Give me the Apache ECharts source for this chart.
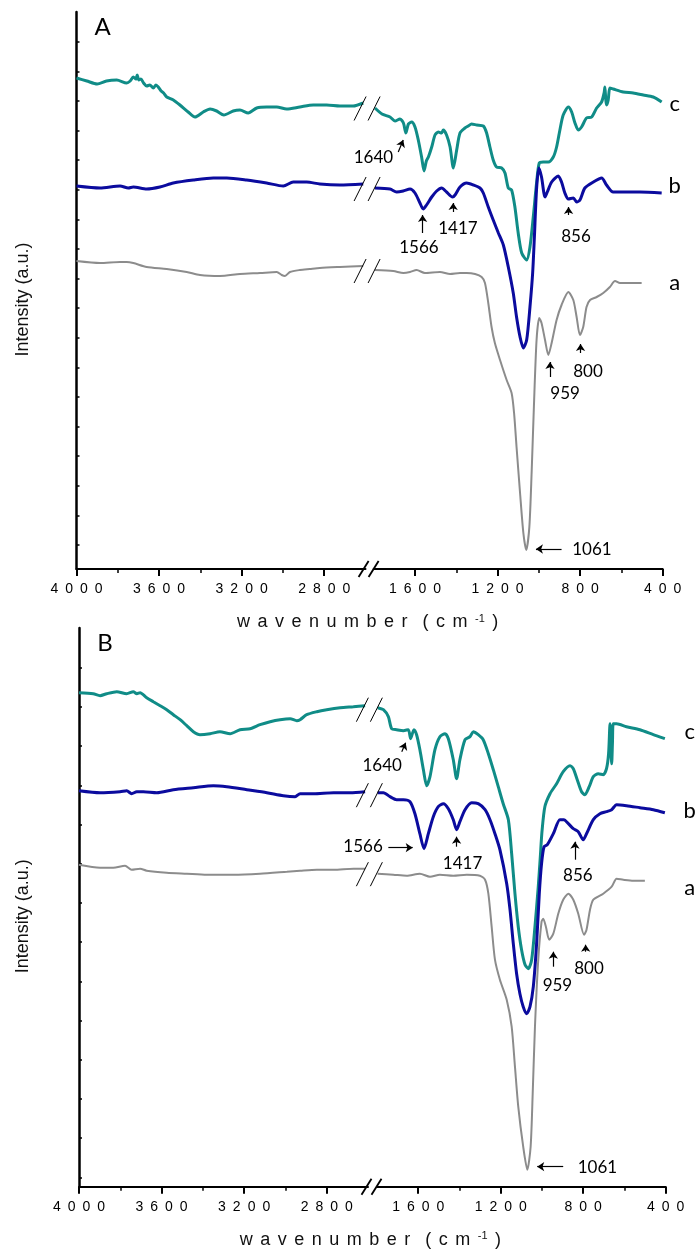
<!DOCTYPE html>
<html>
<head>
<meta charset="utf-8">
<title>FTIR spectra A / B</title>
<script src="https://cdn.jsdelivr.net/npm/echarts@6.0.0/dist/echarts.min.js"></script>
<style>
  html, body { margin: 0; padding: 0; background: #fff; }
  #chart { width: 698px; height: 1251px; }
</style>
</head>
<body>
<div id="chart"></div>
<script>
// broken wavenumber axis: 4000-2600 | 1800-400 (cm-1)
var leftRange = [2600, 4000];
var rightRange = [400, 1800];
var leftMajor = [4000, 3600, 3200, 2800];
var leftMinor = [3800, 3400, 3000];
var rightMajor = [1600, 1200, 800, 400];
var rightMinor = [1400, 1000, 600];

// intensity (a.u.), unlabeled ticks
var yMaxA = 557;
var yMaxB = 558.7;
var yTicksA = [24, 53.6, 83.2, 112.8, 142.4, 172, 201.6, 231.2, 260.8, 290.4, 320, 349.6, 379.2, 408.8, 438.4, 468, 497.6, 527.2];
var yTicksB = [9.4, 48.6, 87.8, 127, 166.2, 205.4, 244.6, 283.8, 323, 362.2, 401.4, 440.6, 479.8, 519];

// ---- panel A : [wavenumber, intensity]
var aTealLeft = [[4000,491],[3950,488],[3900,485],[3855,488],[3805,489],[3757,486],[3740,488],[3725,492],[3712,490],[3706,494],[3698,489],[3688,490],[3675,486],[3660,483],[3645,484],[3628,481],[3615,484],[3604,482],[3590,478],[3578,476],[3563,472],[3531,469],[3499,464],[3459,457],[3426,452],[3386,457],[3353,460],[3321,458],[3286,454],[3241,458],[3208,459],[3168,456],[3127,461],[3079,462],[3030,462],[2982,460],[2918,462],[2853,464],[2788,464],[2724,463],[2660,463],[2611,466]];
var aTealRight = [[1794,461],[1760,455],[1721,452],[1697,448],[1673,450],[1656,446],[1644,436],[1632,445],[1616,447],[1600,442],[1584,429],[1568,412],[1556,398],[1545,408],[1535,412],[1519,422],[1503,434],[1487,437],[1471,436],[1463,439],[1447,434],[1430,422],[1414,401],[1398,419],[1382,436],[1358,441],[1342,443],[1326,445],[1301,444],[1269,443],[1253,436],[1237,422],[1221,409],[1205,402],[1180,401],[1164,396],[1148,381],[1132,379],[1116,362],[1100,336],[1083,316],[1059,309],[1043,322],[1027,352],[1011,386],[998,406],[979,407],[954,407],[930,412],[914,422],[898,439],[882,454],[857,462],[841,457],[825,446],[809,439],[793,442],[769,451],[744,452],[720,461],[696,467],[684,476],[680,482],[676,470],[672,464],[664,469],[656,481],[640,480],[591,477],[543,476],[494,474],[446,472],[405,467]];
var aBlueLeft = [[4000,383],[3886,381],[3789,383],[3749,381],[3725,382],[3660,380],[3596,382],[3531,386],[3434,389],[3337,391],[3272,391],[3176,389],[3079,386],[2998,383],[2950,387],[2885,387],[2821,385],[2724,384],[2611,385]];
var aBlueRight = [[1794,381],[1721,380],[1689,377],[1657,378],[1624,380],[1600,376],[1576,366],[1560,360],[1544,364],[1519,372],[1495,378],[1471,381],[1447,377],[1418,372],[1406,374],[1382,382],[1350,386],[1317,384],[1285,381],[1269,376],[1245,362],[1221,349],[1196,336],[1172,324],[1148,302],[1124,276],[1108,252],[1091,232],[1075,221],[1059,229],[1043,262],[1030,296],[1022,330],[1011,380],[1000,401],[987,392],[970,372],[959,377],[938,387],[906,393],[890,387],[874,376],[857,370],[833,371],[817,367],[801,369],[777,381],[736,387],[696,391],[672,384],[640,377],[591,377],[510,377],[405,376]];
var aGrayLeft = [[4000,308],[3886,306],[3789,307],[3757,307],[3725,306],[3660,302],[3563,300],[3466,297],[3402,294],[3305,293],[3208,295],[3111,296],[3030,297],[3006,294],[2990,293],[2966,297],[2918,299],[2870,300],[2821,301],[2724,302],[2611,303]];
var aGrayRight = [[1794,299],[1705,298],[1656,296],[1624,297],[1592,299],[1552,296],[1479,297],[1430,295],[1382,296],[1350,296],[1309,295],[1277,292],[1261,286],[1245,266],[1229,242],[1213,226],[1188,209],[1156,189],[1132,176],[1120,156],[1108,122],[1091,76],[1075,36],[1061,19],[1046,42],[1035,96],[1024,162],[1011,229],[998,251],[987,246],[970,229],[954,214],[938,226],[914,249],[890,264],[857,277],[833,269],[817,252],[801,234],[785,242],[769,262],[752,269],[720,272],[688,276],[656,282],[631,288],[607,286],[559,286],[502,286]];

// ---- panel B
var bTealLeft = [[4000,494],[3931,493],[3898,491],[3866,493],[3817,495],[3769,493],[3737,495],[3720,493],[3704,494],[3672,489],[3640,485],[3607,481],[3575,477],[3543,472],[3510,467],[3478,461],[3446,455],[3414,452],[3365,453],[3317,455],[3268,453],[3220,457],[3171,458],[3123,462],[3074,465],[3026,467],[2977,468],[2945,466],[2929,467],[2897,472],[2848,475],[2800,477],[2735,479],[2671,480],[2614,481]];
var bTealRight = [[1797,479],[1769,477],[1745,470],[1729,458],[1705,457],[1672,456],[1648,457],[1637,448],[1621,457],[1608,452],[1592,437],[1575,417],[1559,401],[1543,410],[1519,437],[1495,450],[1470,453],[1454,448],[1430,427],[1414,408],[1398,427],[1373,447],[1349,450],[1333,455],[1309,452],[1285,447],[1260,433],[1236,417],[1212,400],[1188,383],[1163,367],[1147,333],[1131,293],[1115,260],[1099,237],[1082,222],[1066,218],[1050,227],[1034,260],[1018,300],[1008,330],[1000,355],[986,380],[961,393],[929,403],[897,415],[864,421],[848,418],[829,407],[808,395],[792,392],[771,400],[751,410],[727,413],[703,412],[687,418],[677,433],[670,463],[666,440],[662,423],[658,445],[654,463],[638,463],[590,460],[525,457],[460,452],[404,448]];
var bBlueLeft = [[4000,396],[3898,394],[3801,395],[3769,396],[3745,393],[3720,395],[3688,395],[3623,394],[3543,397],[3446,399],[3349,401],[3284,400],[3187,397],[3090,394],[3010,391],[2953,390],[2929,393],[2864,393],[2767,394],[2686,394],[2614,395]];
var bBlueRight = [[1797,394],[1769,394],[1737,390],[1705,387],[1672,387],[1640,385],[1616,373],[1592,353],[1572,338],[1551,353],[1527,370],[1503,380],[1478,383],[1454,378],[1430,367],[1414,357],[1398,365],[1373,377],[1341,384],[1309,383],[1276,377],[1252,367],[1228,353],[1204,337],[1171,303],[1155,277],[1139,243],[1123,213],[1107,193],[1091,180],[1074,173],[1058,180],[1042,200],[1026,243],[1013,293],[1002,323],[990,340],[974,342],[945,353],[913,367],[894,367],[872,363],[848,358],[824,355],[800,347],[784,353],[751,367],[719,373],[687,375],[662,377],[638,382],[590,381],[525,379],[460,377],[404,374]];
var bGrayLeft = [[4000,322],[3898,319],[3834,319],[3777,321],[3745,317],[3704,318],[3672,316],[3575,314],[3478,313],[3381,312],[3252,312],[3123,313],[2993,315],[2929,316],[2848,317],[2767,317],[2670,318],[2614,318]];
var bGrayRight = [[1797,313],[1721,312],[1656,311],[1592,313],[1543,310],[1495,312],[1430,311],[1365,312],[1301,311],[1276,307],[1260,293],[1244,260],[1228,227],[1204,207],[1171,187],[1147,160],[1131,120],[1115,80],[1091,40],[1071,17],[1055,40],[1045,93],[1034,160],[1018,227],[1002,265],[994,268],[981,260],[965,247],[945,253],[921,273],[897,287],[872,293],[848,287],[824,273],[796,252],[784,257],[767,277],[751,287],[703,293],[662,300],[638,308],[606,307],[557,306],[501,306]];

// peak labels [text, wavenumber, intensity, align] and arrows [x1, y1, x2, y2]
var peaksA = [['1640',1706,411,'right'],['1566',1581,321],['1417',1392,340],['856',820,332],['959',873,175],['800',762,197],['1061',743,19]];
var arrowsA = [[1681,417,1657,429],[1563,336,1563,354],[1415,357,1415,366],[856,354,856,362],[946,192,946,207],[798,216,798,225],[890,20,1014,20]];
var peaksB = [['1640',1679,421,'right'],['1566',1772,340,'right'],['1417',1385,323],['856',826,311],['959',925,201],['800',772,218],['1061',731,19]];
var arrowsB = [[1680,435,1661,444],[1745,339,1627,339],[1414,340,1414,350],[840,327,840,345],[945,220,945,235],[788,235,788,242],[897,20,1023,20]];
// curve letters at the right end: [text, intensity]
var curveTagsA = [['c',465],['b',383],['a',286]];
var curveTagsB = [['c',455],['b',376],['a',299]];

var TEAL = '#108c87', BLUE = '#0b0b9e', GRAY = '#8c8c8c';
var NUM_FONT = 'Lato';
var AXIS_FONT = 'Liberation Sans';

var grids = [
  {left: 76.5, top: 12, width: 289, height: 557},
  {left: 373.7, top: 12, width: 289, height: 557},
  {left: 79, top: 628, width: 289, height: 558.7},
  {left: 377, top: 628, width: 288.7, height: 558.7}
];

function spaced(v) { return String(v).split('').join('\u2002'); }

function xAxisMajor(g, side) {
  var r = side === 'L' ? leftRange : rightRange;
  var ticks = side === 'L' ? leftMajor : rightMajor;
  return {
    type: 'value', gridIndex: g, min: r[0], max: r[1], inverse: true, position: 'bottom',
    axisLine: {show: true, onZero: false, lineStyle: {color: '#000', width: 2}},
    axisTick: {show: true, customValues: ticks, length: 7, lineStyle: {color: '#000', width: 2}},
    axisLabel: {show: true, customValues: ticks, formatter: spaced, margin: 13, color: '#000', fontSize: 14, fontFamily: AXIS_FONT},
    splitLine: {show: false}
  };
}
function xAxisMinor(g, side) {
  var r = side === 'L' ? leftRange : rightRange;
  return {
    type: 'value', gridIndex: g, min: r[0], max: r[1], inverse: true, position: 'bottom',
    axisLine: {show: false, onZero: false},
    axisTick: {show: true, customValues: side === 'L' ? leftMinor : rightMinor, length: 4, lineStyle: {color: '#000', width: 1.5}},
    axisLabel: {show: false}, splitLine: {show: false}
  };
}
function yAxisOf(g, max, ticks, visible) {
  return {
    type: 'value', gridIndex: g, min: 0, max: max, show: visible,
    axisLine: {show: true, lineStyle: {color: '#000', width: 2.5}},
    axisTick: {show: true, inside: true, length: 3, customValues: ticks, lineStyle: {color: '#000', width: 1.5}},
    axisLabel: {show: false}, splitLine: {show: false}
  };
}

function line(data, axis, color, width) {
  return {
    type: 'line', data: data, xAxisIndex: axis, yAxisIndex: axis,
    symbol: 'none', smooth: 0.25, silent: true, animation: false,
    lineStyle: {color: color, width: width}, itemStyle: {color: color}
  };
}
function textMarks(items, size, dx) {
  return {
    silent: true, animation: false, symbol: 'circle', symbolSize: 1,
    itemStyle: {color: 'rgba(0,0,0,0)'},
    label: {show: true, position: 'inside', formatter: '{b}', color: '#000', fontFamily: NUM_FONT, fontSize: size, offset: [dx, 0]},
    data: items.map(function (it) {
      var d = {name: it[0], coord: [it[1], it[2]]};
      if (it[3]) d.label = {align: it[3]};
      return d;
    })
  };
}
function arrowMarks(list) {
  return {
    silent: true, animation: false, symbol: ['none', 'arrow'], symbolSize: 7,
    lineStyle: {color: '#000', width: 1.2, type: 'solid'}, label: {show: false},
    data: list.map(function (a) { return [{coord: [a[0], a[1]]}, {coord: [a[2], a[3]]}]; })
  };
}
function tagItems(tags) { return tags.map(function (t) { return [t[0], 400, t[1]]; }); }

var panels = [
  {left: 0, right: 1, curves: [[aGrayLeft, aGrayRight, GRAY, 2], [aTealLeft, aTealRight, TEAL, 3], [aBlueLeft, aBlueRight, BLUE, 3]],
   peaks: peaksA, arrows: arrowsA, tags: curveTagsA, tagDx: 12},
  {left: 2, right: 3, curves: [[bGrayLeft, bGrayRight, GRAY, 2], [bTealLeft, bTealRight, TEAL, 3], [bBlueLeft, bBlueRight, BLUE, 3]],
   peaks: peaksB, arrows: arrowsB, tags: curveTagsB, tagDx: 24}
];

var series = [];
panels.forEach(function (P) {
  var tags = tagItems(P.tags); // c, b, a
  var tagFor = {};
  tagFor[GRAY] = [tags[2]]; tagFor[TEAL] = [tags[0]]; tagFor[BLUE] = [tags[1]];
  P.curves.forEach(function (c) {
    series.push(line(c[0], P.left, c[2], c[3]));
    var s = line(c[1], P.right, c[2], c[3]);
    var tm = textMarks(tagFor[c[2]], 22, P.tagDx);
    if (c[2] === GRAY) {
      var pk = textMarks(P.peaks, 17, 0);
      tm.data = tm.data.concat(pk.data.map(function (d) { d.label = Object.assign({offset: [0, 0], fontSize: 17}, d.label || {}); return d; }));
      s.markLine = arrowMarks(P.arrows);
    }
    s.markPoint = tm;
    series.push(s);
  });
});

var chart = echarts.init(document.getElementById('chart'));
chart.setOption({
  animation: false,
  backgroundColor: '#fff',
  grid: grids.concat(grids),
  xAxis: [xAxisMajor(0, 'L'), xAxisMajor(1, 'R'), xAxisMajor(2, 'L'), xAxisMajor(3, 'R'),
          xAxisMinor(4, 'L'), xAxisMinor(5, 'R'), xAxisMinor(6, 'L'), xAxisMinor(7, 'R')],
  yAxis: [yAxisOf(0, yMaxA, yTicksA, true), yAxisOf(1, yMaxA, yTicksA, false),
          yAxisOf(2, yMaxB, yTicksB, true), yAxisOf(3, yMaxB, yTicksB, false),
          yAxisOf(4, yMaxA, [], false), yAxisOf(5, yMaxA, [], false),
          yAxisOf(6, yMaxB, [], false), yAxisOf(7, yMaxB, [], false)],
  series: series
});

// break marks, panel letters and axis titles
var g = [];
function px(ax, pt) { return chart.convertToPixel({xAxisIndex: ax, yAxisIndex: ax}, pt); }
function slashes(cx, cy, sep, dx, dy, w) {
  [-sep, sep].forEach(function (o) {
    g.push({type: 'line', z: 100, silent: true,
      shape: {x1: cx + o - dx, y1: cy + dy, x2: cx + o + dx, y2: cy - dy},
      style: {stroke: '#000', lineWidth: w}});
  });
}
var SEP = '\u2004\u200A';
function spread(s) { return s.split('').join(SEP); }
['A', 'B'].forEach(function (letter, i) {
  var P = panels[i];
  var a = px(P.left, [leftRange[0], 0]), b = px(P.right, [rightRange[1], 0]);
  var mid = (a[0] + b[0]) / 2;
  slashes(mid - 1, a[1], 5, 5, 8, 1.8);
  P.curves.forEach(function (c) {
    var l = px(P.left, c[0][c[0].length - 1]), r = px(P.right, c[1][0]);
    slashes((l[0] + r[0]) / 2 - 2, (l[1] + r[1]) / 2 + 3, 7, 6, 12, 1);
  });
  var top = grids[P.left].top;
  var left = grids[P.left].left;
  var right = grids[P.right].left + grids[P.right].width;
  var bottom = top + grids[P.left].height;
  g.push({type: 'text', silent: true, x: left + 26, y: top + 15,
    style: {text: letter, fill: '#000', font: '24px ' + NUM_FONT, align: 'center', verticalAlign: 'middle'}});
  g.push({type: 'text', silent: true, x: 23, y: top + grids[P.left].height / 2 + 9, rotation: Math.PI / 2,
    style: {text: 'Intensity (a.u.)', fill: '#111', font: '18px "' + AXIS_FONT + '"', align: 'center', verticalAlign: 'middle'}});
  g.push({type: 'text', silent: true, x: (left + right) / 2 - 2, y: bottom + 53,
    style: {
      text: '{t|' + spread('wavenumber') + SEP + SEP + spread('(cm') + SEP + '}{s|-1}{t|' + SEP + ')}',
      rich: {
        t: {fontSize: 18, fontFamily: AXIS_FONT, fill: '#111'},
        s: {fontSize: 11, fontFamily: AXIS_FONT, fill: '#111', verticalAlign: 'top'}
      },
      align: 'center', verticalAlign: 'middle'
    }});
});
chart.setOption({graphic: g});
</script>
</body>
</html>
